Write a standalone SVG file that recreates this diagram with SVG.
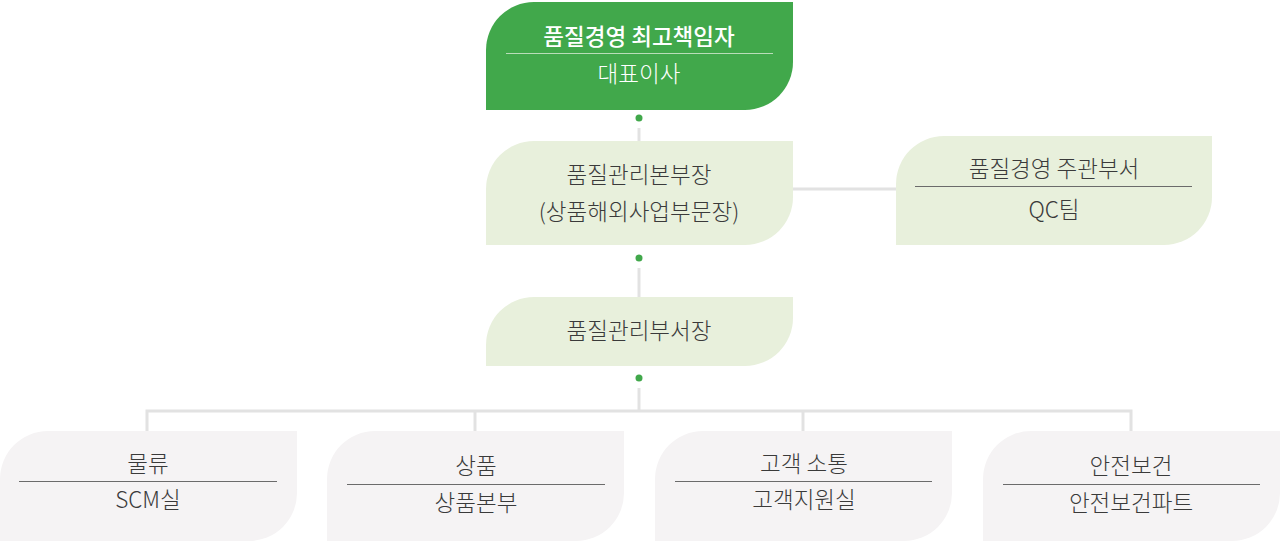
<svg xmlns="http://www.w3.org/2000/svg" width="1280" height="541" viewBox="0 0 1280 541">
<defs>
<style>
text{font-family:"Noto Sans CJK KR","Noto Sans",sans-serif;font-size:22.5px;font-weight:300;text-anchor:middle;fill:#3a3a3a}
.w{fill:#ffffff}
.b{font-weight:500}
.top{fill:#41a84b}
.mid{fill:#e8f0dc}
.bot{fill:#f5f3f4}
.ln{stroke:#e2e2e2;stroke-width:3;fill:none}
.dot{fill:#41a84b}
.dv{stroke:#6b6b6b;stroke-width:1}
.dvw{stroke:#b9ddb9;stroke-width:1}
</style>
</defs>
<rect width="1280" height="541" fill="#ffffff"/>
<g id="connectors">
<line class="ln" x1="639" y1="128" x2="639" y2="141"/>
<line class="ln" x1="639" y1="268" x2="639" y2="297"/>
<line class="ln" x1="639" y1="388" x2="639" y2="411"/>
<line class="ln" x1="793" y1="189" x2="896" y2="189"/>
<polyline class="ln" points="147,431 147,411 1131,411 1131,431"/>
<line class="ln" x1="475" y1="411" x2="475" y2="431"/>
<line class="ln" x1="803" y1="411" x2="803" y2="431"/>
<circle class="dot" cx="639" cy="118" r="3.5"/>
<circle class="dot" cx="639" cy="258" r="3.5"/>
<circle class="dot" cx="639" cy="378" r="3.5"/>
</g>
<g id="n-ceo">
<path class="top" d="M486,110 V50 A48,48 0 0 1 534,2 H793 V62 A48,48 0 0 1 745,110 Z"/>
<text class="w b" x="639" y="45">품질경영 최고책임자</text>
<line class="dvw" x1="506" y1="53.5" x2="773" y2="53.5"/>
<text class="w" x="639" y="82">대표이사</text>
</g>
<g id="n-hq">
<path class="mid" d="M486,245 V189 A48,48 0 0 1 534,141 H793 V197 A48,48 0 0 1 745,245 Z"/>
<text x="639" y="183">품질관리본부장</text>
<text x="639" y="220">(상품해외사업부문장)</text>
</g>
<g id="n-qc">
<path class="mid" d="M896,245 V184 A48,48 0 0 1 944,136 H1212 V197 A48,48 0 0 1 1164,245 Z"/>
<text x="1054" y="177">품질경영 주관부서</text>
<line class="dv" x1="915" y1="186.5" x2="1192" y2="186.5"/>
<text x="1054" y="218">QC팀</text>
</g>
<g id="n-dept">
<path class="mid" d="M486,366 V345 A48,48 0 0 1 534,297 H793 V318 A48,48 0 0 1 745,366 Z"/>
<text x="639" y="339">품질관리부서장</text>
</g>
<g id="n-scm">
<path class="bot" d="M0,541 V479 A48,48 0 0 1 48,431 H297 V493 A48,48 0 0 1 249,541 Z"/>
<text x="148" y="472">물류</text>
<line class="dv" x1="19" y1="481.5" x2="277" y2="481.5"/>
<text x="148" y="508">SCM실</text>
</g>
<g id="n-product">
<path class="bot" d="M327,541 V479 A48,48 0 0 1 375,431 H624 V493 A48,48 0 0 1 576,541 Z"/>
<text x="476" y="474">상품</text>
<line class="dv" x1="347" y1="484.5" x2="605" y2="484.5"/>
<text x="476" y="511">상품본부</text>
</g>
<g id="n-cs">
<path class="bot" d="M655,541 V479 A48,48 0 0 1 703,431 H952 V493 A48,48 0 0 1 904,541 Z"/>
<text x="804" y="472">고객 소통</text>
<line class="dv" x1="675" y1="481.5" x2="932" y2="481.5"/>
<text x="804" y="508">고객지원실</text>
</g>
<g id="n-safety">
<path class="bot" d="M983,541 V479 A48,48 0 0 1 1031,431 H1280 V493 A48,48 0 0 1 1232,541 Z"/>
<text x="1131" y="474">안전보건</text>
<line class="dv" x1="1003" y1="484.5" x2="1260" y2="484.5"/>
<text x="1131" y="511">안전보건파트</text>
</g>
</svg>
